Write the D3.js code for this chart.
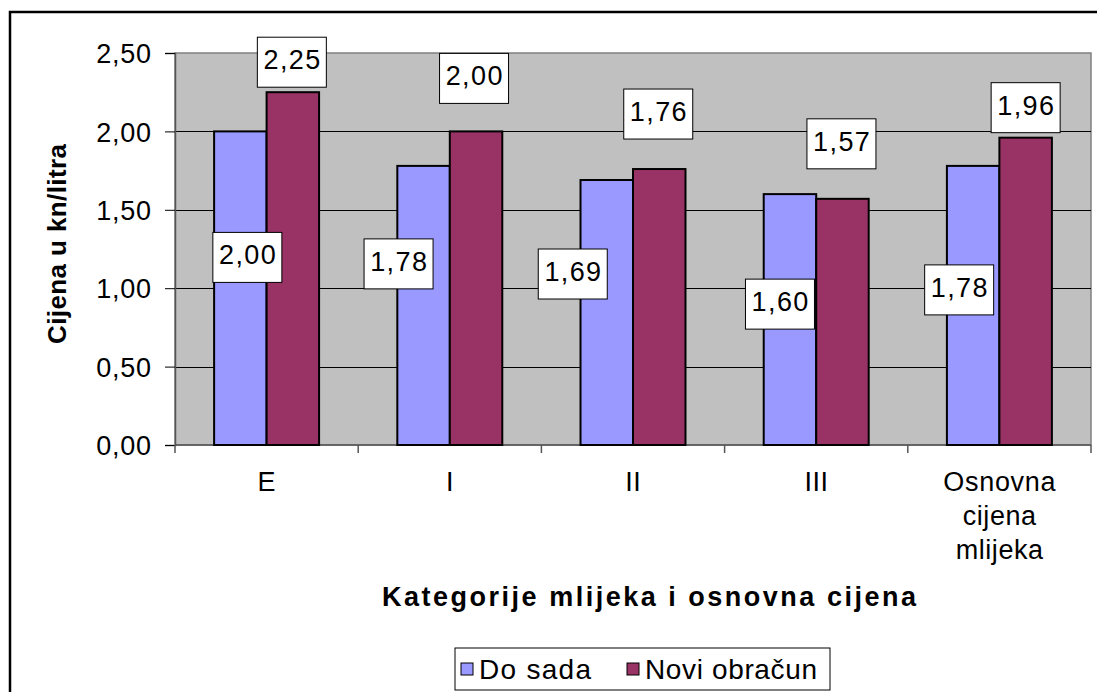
<!DOCTYPE html>
<html>
<head>
<meta charset="utf-8">
<script src="https://cdn.jsdelivr.net/npm/d3@7"></script>
<style>
  body { margin: 0; background: #fff; }
  text { font-family: "Liberation Sans", Arial, sans-serif; fill: #000; }
</style>
</head>
<body>
<div id="chart"></div>
<script>
// Data
const categories = ["E", "I", "II", "III", "Osnovna cijena mlijeka"];
const seriesNames = ["Do sada", "Novi obračun"];
const doSada = [2.0, 1.78, 1.69, 1.6, 1.78];
const noviObracun = [2.25, 2.0, 1.76, 1.57, 1.96];
const yTicks = [0, 0.5, 1.0, 1.5, 2.0, 2.5];

// Manually placed data labels (pixel nudges, like the original)
const nudgeDo = [
  { dx: 7, dy: 126 },
  { dx: -25, dy: 98 },
  { dx: -34, dy: 94 },
  { dx: -10, dy: 110 },
  { dx: -14, dy: 124 },
];
const nudgeNovi = [
  { dx: -1, dy: -30 },
  { dx: -2, dy: -53 },
  { dx: -1, dy: -55 },
  { dx: -1, dy: -55 },
  { dx: 0, dy: -30 },
];

const width = 1097;
const height = 692;
const margin = { top: 53, right: 6, bottom: 247, left: 175 };
const colors = ["#9999FF", "#993366"];
const fmt = (v) => d3.format(".2f")(v).replace(".", ",");

const svg = d3
  .select("#chart")
  .append("svg")
  .attr("width", width)
  .attr("height", height);

// Widen text a little like the old Excel rendering
function stretch(sel, factor) {
  sel.each(function () {
    const len = this.getComputedTextLength();
    d3.select(this)
      .attr("textLength", len * factor)
      .attr("lengthAdjust", "spacing");
  });
}

// Outer chart border (right and bottom fall outside the picture)
svg
  .append("rect")
  .attr("x", 10)
  .attr("y", 12)
  .attr("width", 1200)
  .attr("height", 800)
  .attr("fill", "none")
  .attr("stroke", "#000")
  .attr("stroke-width", 2.5);

// Scales
const x0 = d3
  .scaleBand()
  .domain(categories)
  .range([margin.left, width - margin.right])
  .paddingInner(0.427)
  .paddingOuter(0.2135);

const x1 = d3
  .scaleBand()
  .domain(seriesNames)
  .range([0, x0.bandwidth()]);

const y = d3
  .scaleLinear()
  .domain([0, 2.5])
  .range([height - margin.bottom, margin.top]);

const plotW = width - margin.right - margin.left;
const plotH = height - margin.bottom - margin.top;

// Plot area
svg
  .append("rect")
  .attr("x", margin.left)
  .attr("y", margin.top)
  .attr("width", plotW)
  .attr("height", plotH)
  .attr("fill", "#C0C0C0")
  .attr("stroke", "#808080")
  .attr("stroke-width", 1.5);

// Gridlines
svg
  .append("g")
  .selectAll("line")
  .data(yTicks.filter((d) => d > 0 && d < 2.5))
  .join("line")
  .attr("x1", margin.left)
  .attr("x2", width - margin.right)
  .attr("y1", (d) => Math.round(y(d)) + 0.5)
  .attr("y2", (d) => Math.round(y(d)) + 0.5)
  .attr("stroke", "#000")
  .attr("stroke-width", 1);

// Y axis
const gY = svg
  .append("g")
  .attr("transform", `translate(${margin.left},0)`)
  .call(
    d3
      .axisLeft(y)
      .tickValues(yTicks)
      .tickSize(10)
      .tickPadding(14)
      .tickFormat(fmt)
  );
gY.select(".domain").attr("stroke", "#555").attr("stroke-width", 1.5);
gY.selectAll(".tick line").attr("stroke", "#000");
gY.selectAll(".tick text")
  .attr("font-size", 27)
  .attr("dy", "0.36em")
  .attr("font-family", '"Liberation Sans", Arial, sans-serif')
  .call(stretch, 1.04);

// X axis: ticks at category boundaries
const boundaries = d3
  .range(categories.length + 1)
  .map((i) => margin.left + i * (plotW / categories.length));
svg
  .append("line")
  .attr("x1", margin.left)
  .attr("x2", width - margin.right)
  .attr("y1", y(0))
  .attr("y2", y(0))
  .attr("stroke", "#555")
  .attr("stroke-width", 1.5);
svg
  .append("g")
  .selectAll("line")
  .data(boundaries)
  .join("line")
  .attr("x1", (d) => d)
  .attr("x2", (d) => d)
  .attr("y1", y(0))
  .attr("y2", y(0) + 8)
  .attr("stroke", "#555")
  .attr("stroke-width", 1.5);

// Category labels
const catLabel = svg
  .append("g")
  .selectAll("text")
  .data(categories)
  .join("text")
  .attr("text-anchor", "middle")
  .attr("font-size", 27)
  .attr("x", (d) => x0(d) + x0.bandwidth() / 2)
  .attr("y", 491);
catLabel
  .selectAll("tspan")
  .data((d) => (d.length > 5 ? ["Osnovna", "cijena", "mlijeka"] : [d]))
  .join("tspan")
  .attr("x", function () {
    return d3.select(this.parentNode).attr("x");
  })
  .attr("dy", (d, i) => (i === 0 ? 0 : 34))
  .text((d) => d)
  .call(stretch, 1.04);

// Bars
const rows = categories.map((c, i) => ({
  category: c,
  i,
  values: [doSada[i], noviObracun[i]],
}));

const gCat = svg
  .append("g")
  .selectAll("g")
  .data(rows)
  .join("g")
  .attr("transform", (d) => `translate(${x0(d.category)},0)`);

gCat
  .selectAll("rect")
  .data((d) => d.values.map((v, k) => ({ v, k })))
  .join("rect")
  .attr("x", (d) => x1(seriesNames[d.k]))
  .attr("width", x1.bandwidth())
  .attr("y", (d) => y(d.v))
  .attr("height", (d) => y(0) - y(d.v))
  .attr("fill", (d) => colors[d.k])
  .attr("stroke", "#000")
  .attr("stroke-width", 2);

// Data labels
const boxW = 69;
const boxH = 50;
const labels = [];
rows.forEach((r) => {
  r.values.forEach((v, k) => {
    const nudge = k === 0 ? nudgeDo[r.i] : nudgeNovi[r.i];
    labels.push({
      v,
      cx: x0(r.category) + x1(seriesNames[k]) + x1.bandwidth() / 2 + nudge.dx,
      cy: y(v) + nudge.dy,
    });
  });
});

const gLabel = svg
  .append("g")
  .selectAll("g")
  .data(labels)
  .join("g")
  .attr("transform", (d) => `translate(${d.cx},${d.cy})`);
gLabel
  .append("rect")
  .attr("x", -boxW / 2)
  .attr("y", -boxH / 2)
  .attr("width", boxW)
  .attr("height", boxH)
  .attr("fill", "#fff")
  .attr("stroke", "#000")
  .attr("stroke-width", 1);
gLabel
  .append("text")
  .attr("text-anchor", "middle")
  .attr("font-size", 27)
  .attr("y", 7)
  .text((d) => fmt(d.v))
  .call(stretch, 1.08);

// Axis titles
svg
  .append("text")
  .attr("x", 649)
  .attr("y", 606)
  .attr("text-anchor", "middle")
  .attr("font-size", 27)
  .attr("font-weight", "bold")
  .attr("textLength", 534)
  .attr("lengthAdjust", "spacing")
  .text("Kategorije mlijeka i osnovna cijena");

svg
  .append("text")
  .attr("transform", "translate(66,244) rotate(-90)")
  .attr("text-anchor", "middle")
  .attr("font-size", 26)
  .attr("font-weight", "bold")
  .attr("textLength", 200)
  .attr("lengthAdjust", "spacing")
  .text("Cijena u kn/litra");

// Legend
const legend = svg.append("g").attr("transform", "translate(455,648)");
legend
  .append("rect")
  .attr("width", 375)
  .attr("height", 42)
  .attr("fill", "#fff")
  .attr("stroke", "#000")
  .attr("stroke-width", 1);
const legendX = [6, 172];
const legendW = [112, 172];
const legendItem = legend
  .selectAll(".item")
  .data(seriesNames)
  .join("g")
  .attr("class", "item")
  .attr("transform", (d, i) => `translate(${legendX[i]},0)`);
legendItem
  .append("rect")
  .attr("x", 0)
  .attr("y", 15)
  .attr("width", 12)
  .attr("height", 12)
  .attr("fill", (d, i) => colors[i])
  .attr("stroke", "#000")
  .attr("stroke-width", 1);
legendItem
  .append("text")
  .attr("x", 18)
  .attr("y", 31)
  .attr("font-size", 28)
  .attr("textLength", (d, i) => legendW[i])
  .attr("lengthAdjust", "spacing")
  .text((d) => d);
</script>
</body>
</html>
